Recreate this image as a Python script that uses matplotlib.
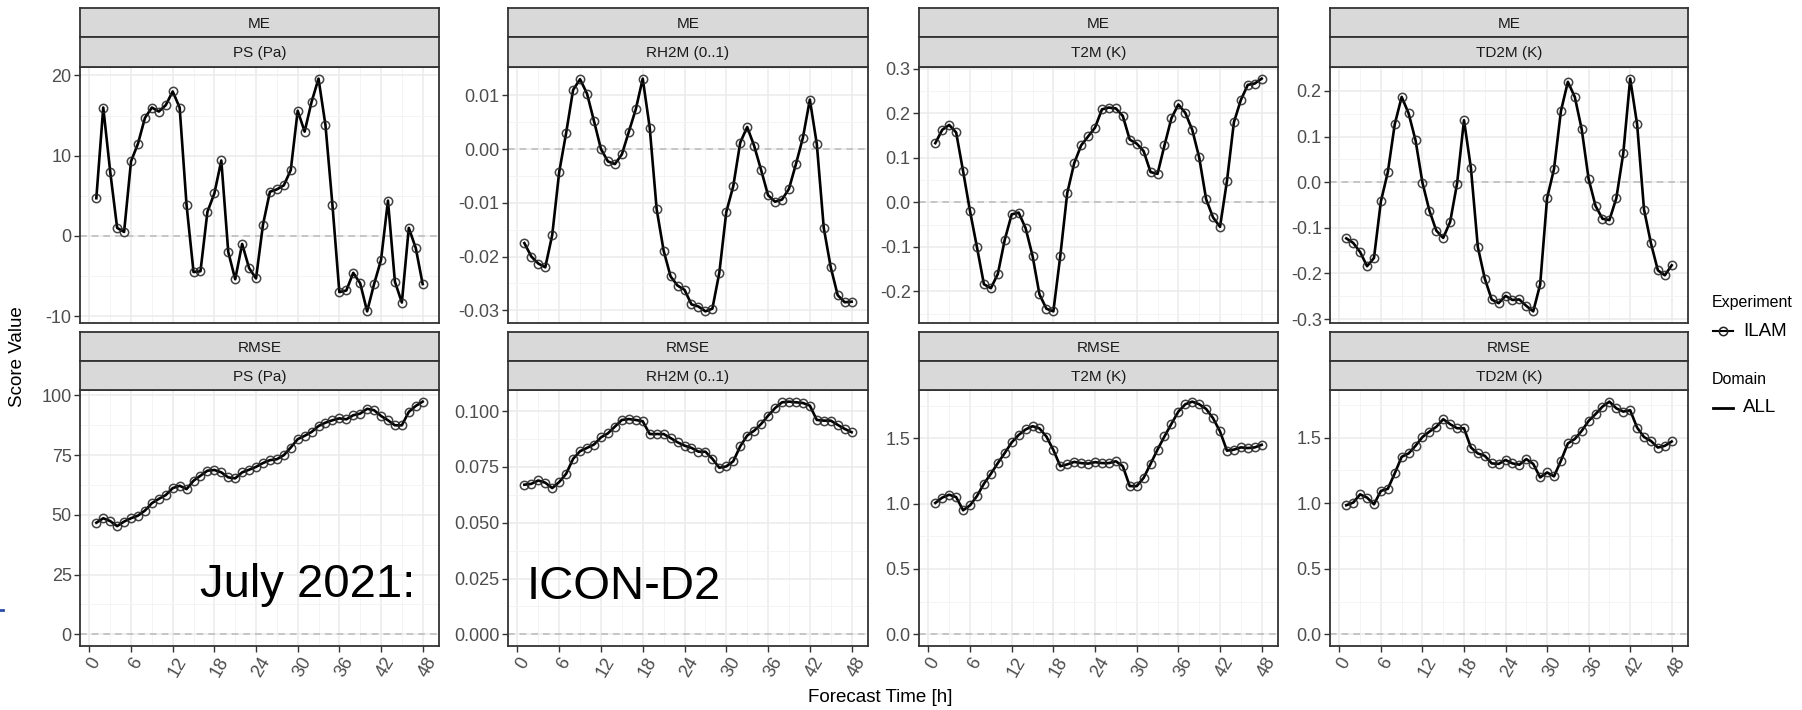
import matplotlib
matplotlib.use("Agg")
import matplotlib.pyplot as plt
import matplotlib.transforms as mtransforms
from matplotlib.lines import Line2D
from matplotlib.ticker import MultipleLocator, FormatStrFormatter

plt.rcParams['font.family'] = ['Liberation Sans', 'DejaVu Sans']

# forecast hours
hours = list(range(1, 49))

# ME scores
me_ps = [4.7, 16.0, 8.0, 1.0, 0.5, 9.3, 11.5, 14.7, 16.0, 15.5, 16.3, 18.0,
         16.0, 3.8, -4.5, -4.4, 3.0, 5.3, 9.4, -2.0, -5.4, -1.0, -4.0, -5.3,
         1.4, 5.5, 5.8, 6.3, 8.2, 15.6, 13.0, 16.7, 19.6, 13.8, 3.9, -7.0,
         -6.8, -4.6, -5.9, -9.4, -6.0, -3.0, 4.4, -5.7, -8.3, 1.0, -1.5, -6.0]
me_rh = [-0.0175, -0.0200, -0.0213, -0.0220, -0.0160, -0.0043, 0.0030, 0.0110,
         0.0130, 0.0103, 0.0052, 0.0000, -0.0023, -0.0028, -0.0010, 0.0032,
         0.0074, 0.0131, 0.0040, -0.0112, -0.0189, -0.0237, -0.0254, -0.0262,
         -0.0289, -0.0293, -0.0302, -0.0297, -0.0230, -0.0117, -0.0069, 0.0012,
         0.0041, 0.0006, -0.0039, -0.0086, -0.0098, -0.0094, -0.0074, -0.0028,
         0.0021, 0.0092, 0.0009, -0.0147, -0.0220, -0.0272, -0.0285, -0.0284]
me_t2m = [0.133, 0.163, 0.174, 0.157, 0.070, -0.020, -0.101, -0.184, -0.193,
          -0.161, -0.084, -0.027, -0.023, -0.058, -0.120, -0.207, -0.239, -0.245,
          -0.120, 0.021, 0.088, 0.128, 0.148, 0.168, 0.209, 0.213, 0.211, 0.194,
          0.141, 0.132, 0.115, 0.068, 0.064, 0.128, 0.189, 0.220, 0.201, 0.163,
          0.101, 0.007, -0.034, -0.055, 0.048, 0.180, 0.230, 0.264, 0.267, 0.278]
me_td2m = [-0.123, -0.133, -0.153, -0.184, -0.166, -0.042, 0.022, 0.127, 0.187,
           0.151, 0.092, -0.001, -0.062, -0.106, -0.122, -0.087, -0.003, 0.136,
           0.031, -0.142, -0.211, -0.257, -0.265, -0.249, -0.258, -0.257, -0.271,
           -0.283, -0.224, -0.035, 0.029, 0.156, 0.220, 0.187, 0.116, 0.007,
           -0.052, -0.080, -0.083, -0.035, 0.063, 0.227, 0.127, -0.060, -0.134,
           -0.193, -0.204, -0.182]

# RMSE scores
rmse_ps = [46.7, 48.6, 47.4, 45.3, 47.2, 48.6, 49.7, 51.8, 54.9, 56.7, 58.3, 61.2,
           62.2, 60.8, 64.3, 66.4, 68.5, 68.8, 67.8, 65.7, 65.3, 67.8, 68.9, 70.1,
           71.7, 72.9, 73.3, 75.0, 78.2, 81.7, 83.1, 84.7, 87.2, 88.6, 89.6, 90.4,
           90.0, 91.7, 92.4, 94.4, 93.8, 91.4, 89.6, 87.5, 87.5, 93.1, 95.6, 97.4]
rmse_rh = [0.0670, 0.0674, 0.0689, 0.0679, 0.0655, 0.0682, 0.0719, 0.0786,
           0.0820, 0.0835, 0.0850, 0.0882, 0.0900, 0.0930, 0.0960, 0.0964,
           0.0960, 0.0954, 0.0897, 0.0897, 0.0897, 0.0879, 0.0860, 0.0845,
           0.0835, 0.0818, 0.0818, 0.0786, 0.0746, 0.0752, 0.0775, 0.0842,
           0.0890, 0.0912, 0.0942, 0.0979, 0.1013, 0.1039, 0.1042, 0.1039,
           0.1036, 0.1024, 0.0960, 0.0957, 0.0957, 0.0938, 0.0920, 0.0905]
rmse_t2m = [1.005, 1.046, 1.068, 1.050, 0.949, 0.987, 1.058, 1.152, 1.228, 1.310,
            1.387, 1.468, 1.525, 1.567, 1.592, 1.575, 1.513, 1.410, 1.286, 1.300,
            1.319, 1.310, 1.306, 1.317, 1.310, 1.310, 1.324, 1.286, 1.134, 1.134,
            1.197, 1.304, 1.413, 1.514, 1.610, 1.704, 1.760, 1.780, 1.760, 1.724,
            1.653, 1.552, 1.405, 1.413, 1.430, 1.425, 1.430, 1.450]
rmse_td2m = [0.985, 1.005, 1.068, 1.043, 0.992, 1.094, 1.110, 1.228, 1.354, 1.380,
             1.438, 1.505, 1.546, 1.583, 1.641, 1.603, 1.572, 1.572, 1.425, 1.380,
             1.362, 1.304, 1.300, 1.330, 1.304, 1.294, 1.337, 1.300, 1.197, 1.235,
             1.205, 1.324, 1.456, 1.490, 1.552, 1.628, 1.680, 1.737, 1.775, 1.724,
             1.699, 1.709, 1.577, 1.505, 1.475, 1.425, 1.438, 1.471]

scores = ["ME", "RMSE"]
params = ["PS (Pa)", "RH2M (0..1)", "T2M (K)", "TD2M (K)"]
values = [[me_ps, me_rh, me_t2m, me_td2m],
          [rmse_ps, rmse_rh, rmse_t2m, rmse_td2m]]
y_steps = [[10, 0.01, 0.1, 0.1],
           [25, 0.025, 0.5, 0.5]]
y_fmts = [["%d", "%.2f", "%.1f", "%.1f"],
          ["%d", "%.3f", "%.1f", "%.1f"]]
x_ticks = [0, 6, 12, 18, 24, 30, 36, 42, 48]

W, H = 1802, 710
fig = plt.figure(figsize=(W / 100, H / 100), dpi=100)

cols = [(80, 439), (508, 868), (919, 1278), (1330, 1688)]
rows = [(8, 37, 67, 323), (332, 361, 390, 646)]  # strip1 top, strip2 top, panel top, panel bottom

def fr(x0, y0, x1, y1):
    return [x0 / W, 1 - y1 / H, (x1 - x0) / W, (y1 - y0) / H]

edge = "#333333"
offset = mtransforms.ScaledTranslation(5 / 100, 0, fig.dpi_scale_trans)

for r, score in enumerate(scores):
    s1, s2, pt, pb = rows[r]
    for c, param in enumerate(params):
        x0, x1 = cols[c]
        v = values[r][c]
        ax = fig.add_axes(fr(x0, pt, x1, pb))
        ax.set_facecolor("white")
        ax.axhline(0, color="#BEBEBE", lw=1.2, ls=(0, (4, 3)), zorder=1)
        ax.plot(hours, v, color="black", lw=1.9, zorder=3)
        ax.plot(hours, v, ls="none", marker="o", ms=6, mfc="none",
                mec="#222222", mew=1.1, alpha=0.85, zorder=4)
        xpad = 0.05 * (max(hours) - min(hours))
        ax.set_xlim(min(hours) - xpad, max(hours) + xpad)
        lo, hi = min(min(v), 0), max(max(v), 0)
        ypad = 0.05 * (hi - lo)
        ax.set_ylim(lo - ypad, hi + ypad)
        ax.set_xticks(x_ticks)
        ax.xaxis.set_minor_locator(MultipleLocator(3))
        ax.yaxis.set_major_locator(MultipleLocator(y_steps[r][c]))
        ax.yaxis.set_minor_locator(MultipleLocator(y_steps[r][c] / 2))
        ax.yaxis.set_major_formatter(FormatStrFormatter(y_fmts[r][c]))
        ax.grid(which="major", color="#EBEBEB", lw=1.1, zorder=0)
        ax.grid(which="minor", color="#F3F3F3", lw=0.6, zorder=0)
        ax.set_axisbelow(True)
        for sp in ax.spines.values():
            sp.set_color(edge)
            sp.set_linewidth(1.3)
        ax.tick_params(which="major", length=4, width=1, color=edge,
                       labelsize=13, labelcolor="#4D4D4D", pad=2)
        ax.tick_params(which="minor", length=0)
        if r == 0:
            ax.tick_params(axis="x", labelbottom=False, length=0)
        else:
            for lab in ax.get_xticklabels():
                lab.set_rotation(60)
                lab.set_ha("center")
                lab.set_va("top")
                lab.set_transform(lab.get_transform() + offset)
        # facet strips
        for (ya, yb), txt in [((s1, s2), score), ((s2, pt), param)]:
            sax = fig.add_axes(fr(x0, ya, x1, yb))
            sax.set_facecolor("#D9D9D9")
            sax.set_xticks([])
            sax.set_yticks([])
            for sp in sax.spines.values():
                sp.set_color(edge)
                sp.set_linewidth(1.3)
            sax.text(0.5, 0.45, txt, transform=sax.transAxes, ha="center",
                     va="center", fontsize=11, color="#1A1A1A")

# axis titles
fig.text(18 / W, 1 - 357 / H, "Score Value", rotation=90, ha="center",
         va="center", fontsize=13.5, color="black")
fig.text(880 / W, 1 - 697 / H, "Forecast Time [h]", ha="center", va="center",
         fontsize=13.5, color="black")

# legend
fig.text(1712 / W, 1 - 303 / H, "Experiment", ha="left", va="center",
         fontsize=11.5, color="black")
fig.add_artist(Line2D([1713 / W, 1733 / W], [1 - 331 / H, 1 - 331 / H],
                      color="black", lw=1.5))
fig.add_artist(Line2D([1723 / W], [1 - 331 / H], marker="o", ms=6,
                      mfc="none", mec="#222222", mew=1.1, ls="none"))
fig.text(1743 / W, 1 - 331 / H, "ILAM", ha="left", va="center",
         fontsize=13.5, color="black")
fig.text(1712 / W, 1 - 380 / H, "Domain", ha="left", va="center",
         fontsize=11.5, color="black")
fig.add_artist(Line2D([1713 / W, 1733 / W], [1 - 408 / H, 1 - 408 / H],
                      color="black", lw=2))
fig.text(1743 / W, 1 - 408 / H, "ALL", ha="left", va="center",
         fontsize=13.5, color="black")

# slide overlay text
fig.text(200 / W, 1 - 585 / H, "July 2021:", ha="left", va="center",
         fontsize=34, color="black")
fig.text(527 / W, 1 - 587 / H, "ICON-D2", ha="left", va="center",
         fontsize=34, color="black")
fig.add_artist(Line2D([0, 3 / W], [1 - 610 / H, 1 - 610 / H],
                      color="#2B4CA8", lw=2))

fig.savefig("out.png", dpi=100, facecolor="white")
